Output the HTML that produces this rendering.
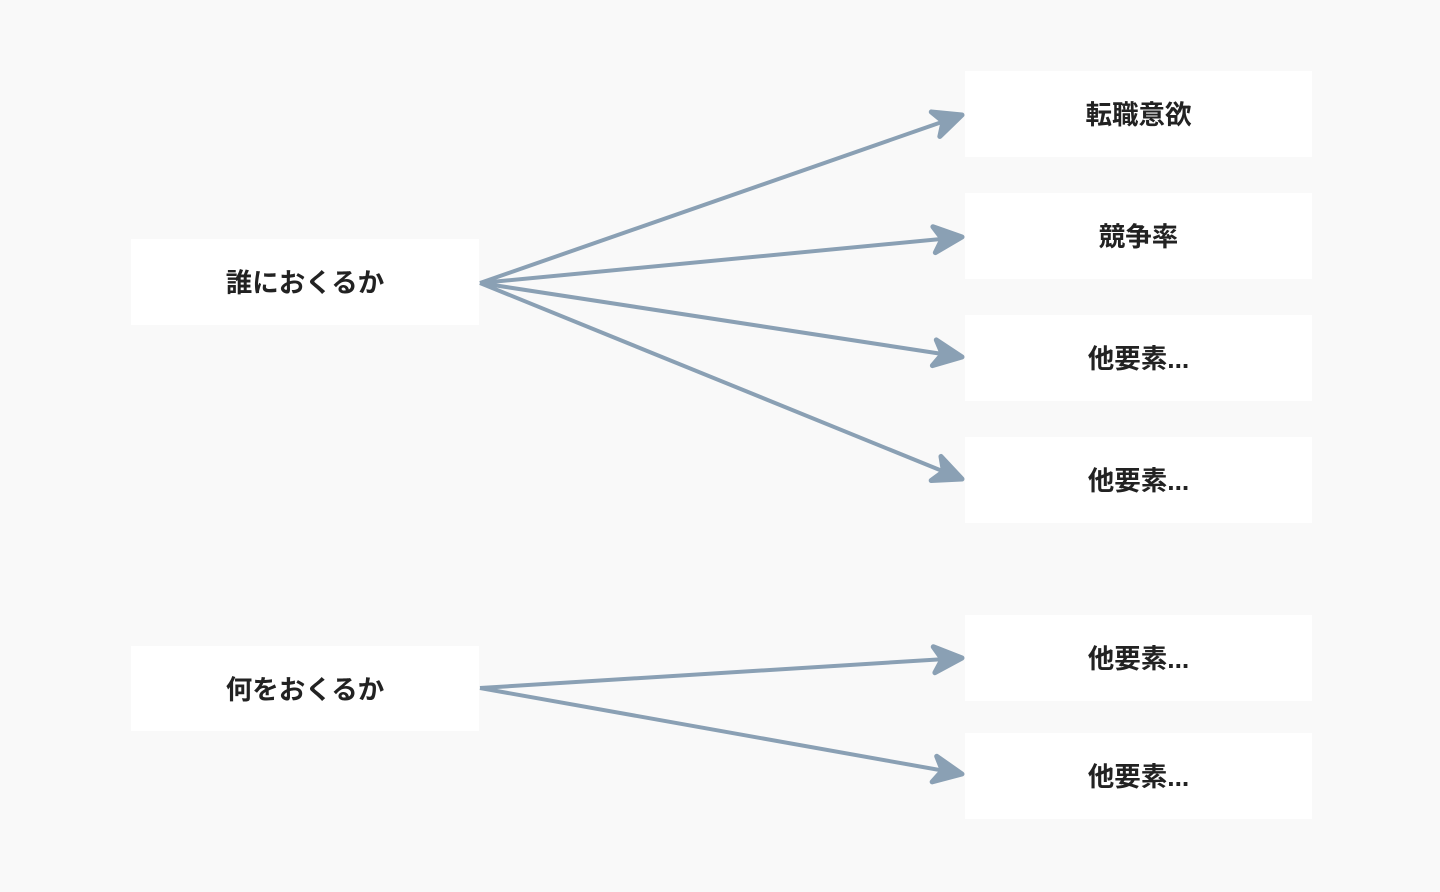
<!DOCTYPE html>
<html><head><meta charset="utf-8"><style>
html,body{margin:0;padding:0;background:#f9f9f9;width:1440px;height:892px;overflow:hidden}
.b{position:absolute;background:#fff;display:flex;align-items:center;justify-content:center;font-family:"Liberation Sans","Noto Sans CJK JP",sans-serif;font-weight:bold;font-size:26.5px;color:#222;padding-bottom:3px;box-sizing:border-box}
svg{position:absolute;left:0;top:0}
</style></head><body>
<div class="b" style="left:131px;top:239px;width:348px;height:86px">誰におくるか</div>
<div class="b" style="left:131px;top:646px;width:348px;height:85px">何をおくるか</div>
<div class="b" style="left:965px;top:71px;width:347px;height:86px">転職意欲</div>
<div class="b" style="left:965px;top:193px;width:347px;height:86px">競争率</div>
<div class="b" style="left:965px;top:315px;width:347px;height:86px">他要素...</div>
<div class="b" style="left:965px;top:437px;width:347px;height:86px">他要素...</div>
<div class="b" style="left:965px;top:615px;width:347px;height:86px">他要素...</div>
<div class="b" style="left:965px;top:733px;width:347px;height:86px">他要素...</div>
<svg width="1440" height="892">
<defs><marker id="a" markerUnits="userSpaceOnUse" markerWidth="44" markerHeight="44" refX="32" refY="17" orient="auto" viewBox="0 0 44 34">
<path d="M4,4 L32,17 L4,30 L12,17 Z" fill="#8aa0b4" stroke="#8aa0b4" stroke-width="5" stroke-linejoin="round"/></marker></defs>
<g stroke="#8aa0b4" stroke-width="4" fill="none" marker-end="url(#a)">
<line x1="480" y1="283" x2="962" y2="115"/>
<line x1="480" y1="283" x2="962" y2="237"/>
<line x1="480" y1="283" x2="962" y2="357"/>
<line x1="480" y1="283" x2="962" y2="479"/>
<line x1="480" y1="688" x2="962" y2="658"/>
<line x1="480" y1="688" x2="962" y2="774"/>
</g></svg>
</body></html>
